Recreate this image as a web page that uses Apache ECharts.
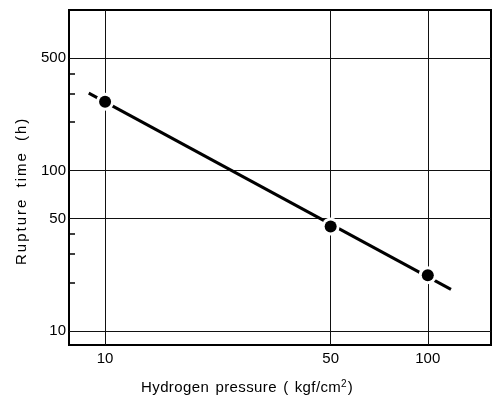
<!DOCTYPE html>
<html>
<head>
<meta charset="utf-8">
<script src="https://cdn.jsdelivr.net/npm/echarts@6/dist/echarts.min.js"></script>
<style>
  html, body { margin: 0; padding: 0; background: #fff; }
  #chart { width: 493px; height: 405px; }
</style>
</head>
<body>
<div id="chart"></div>
<script>
// measured points
var pressure = [10, 50, 100];
var ruptureTime = [268, 44.6, 22.2];
// fitted line end points
var fitPressure = [8.9, 118];
var fitTime = [303, 18.1];
// ticks and labels
var xLabels = [10, 50, 100];
var yLabels = [10, 50, 100, 500];
var yMinorTicks = [20, 30, 40, 200, 300, 400];

var font = 'Liberation Sans, Arial, sans-serif';
var chart = echarts.init(document.getElementById('chart'));

// the scanned titles are letter spaced, so every char gets its own rich token
function spaced(str) {
  return str.split('').map(function (c) {
    return c === ' ' ? '{w| }' : '{c|' + c + '}';
  }).join('');
}

var pointData = pressure.map(function (p, i) { return [p, ruptureTime[i]]; });

var option = {
  animation: false,
  grid: {
    left: 69, top: 10, right: 2, bottom: 60,
    show: true, borderColor: '#000', borderWidth: 2
  },
  xAxis: {
    type: 'log',
    min: 7.73, max: 157,
    axisLine: { show: false },
    axisTick: { show: false, customValues: xLabels },
    axisLabel: {
      customValues: xLabels, margin: 6,
      color: '#000', fontSize: 15, fontFamily: font,
      formatter: function (v) { return String(Math.round(v)); }
    },
    splitLine: { show: true, lineStyle: { color: '#111', width: 1 } }
  },
  yAxis: [{
    type: 'log',
    min: 8.15, max: 1000,
    axisLine: { show: false },
    axisTick: { show: false, customValues: yLabels },
    axisLabel: {
      customValues: yLabels, margin: 3,
      color: '#000', fontSize: 15, fontFamily: font,
      formatter: function (v) { return String(Math.round(v)); }
    },
    splitLine: { show: true, lineStyle: { color: '#111', width: 1 } }
  }, {
    type: 'log',
    min: 8.15, max: 1000,
    position: 'left',
    axisLine: { show: false },
    axisLabel: { show: false },
    splitLine: { show: false },
    axisTick: {
      show: true, inside: true, length: 6,
      customValues: yMinorTicks,
      lineStyle: { color: '#000', width: 1.5 }
    }
  }],
  series: [{
    type: 'line',
    data: fitPressure.map(function (p, i) { return [p, fitTime[i]]; }),
    symbol: 'none',
    lineStyle: { color: '#000', width: 3 },
    z: 3
  }, {
    // white halo that breaks the line around each point
    type: 'scatter',
    data: pointData,
    symbol: 'circle',
    symbolSize: 18,
    itemStyle: { color: '#fff', opacity: 1 },
    emphasis: { disabled: true },
    z: 4
  }, {
    type: 'scatter',
    data: pointData,
    symbol: 'circle',
    symbolSize: 12,
    itemStyle: { color: '#000', opacity: 1 },
    emphasis: { disabled: true },
    z: 5
  }],
  graphic: [{
    type: 'text',
    left: 141, top: 379,
    style: {
      text: spaced('Hydrogen pressure ( kgf/cm') + '{s|2}{c|)}',
      rich: {
        c: { fontSize: 15, fontFamily: font, fill: '#000', padding: [0, 0.2, 0, 0.2] },
        w: { fontSize: 15, fontFamily: font, fill: '#000', padding: [0, 1, 0, 1] },
        s: { fontSize: 10, fontFamily: font, fill: '#000', verticalAlign: 'top', padding: [0, 1, 7, 0] }
      }
    }
  }, {
    type: 'text',
    x: 14, y: 266,
    rotation: Math.PI / 2,
    originX: 0, originY: 0,
    style: {
      text: spaced('Rupture time (h)'),
      align: 'left',
      verticalAlign: 'top',
      rich: {
        c: { fontSize: 15, fontFamily: font, fill: '#000', padding: [0, 1, 0, 1] },
        w: { fontSize: 15, fontFamily: font, fill: '#000', padding: [0, 3, 0, 3] }
      }
    }
  }]
};

chart.setOption(option);
</script>
</body>
</html>
